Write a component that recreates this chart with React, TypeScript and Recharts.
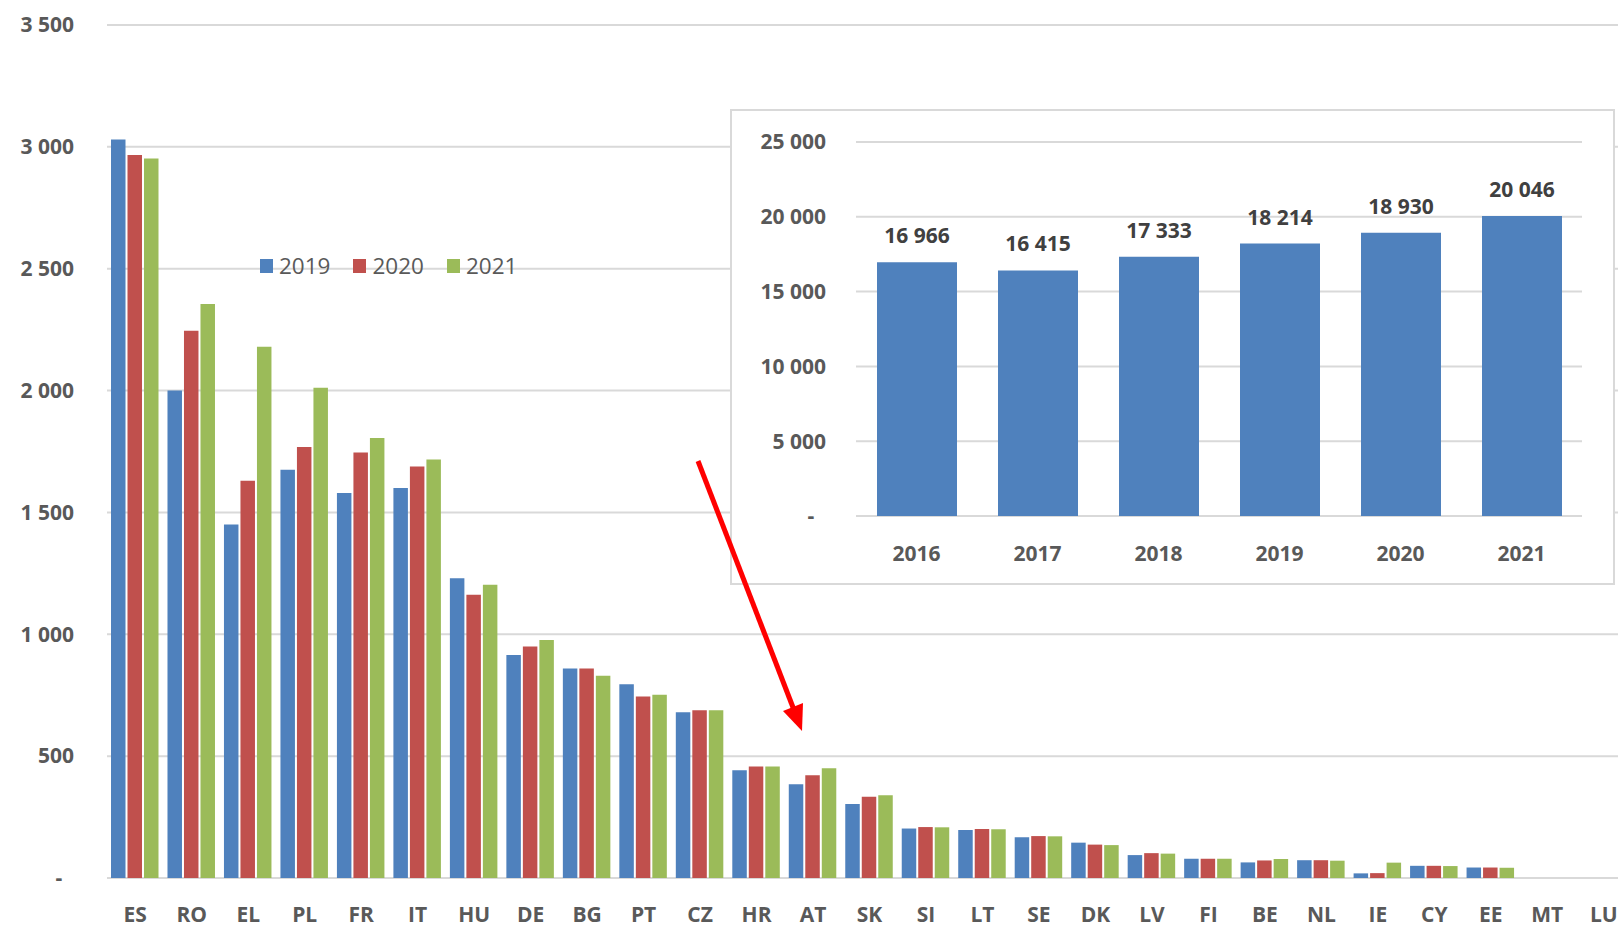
import React from "react"
import { BarChart, Bar, XAxis, YAxis, CartesianGrid, LabelList } from "recharts"

const COUNTRIES = ["ES", "RO", "EL", "PL", "FR", "IT", "HU", "DE", "BG", "PT", "CZ", "HR", "AT", "SK", "SI", "LT", "SE", "DK", "LV", "FI", "BE", "NL", "IE", "CY", "EE", "MT", "LU"]
const V2019 = [3030, 2000, 1450, 1675, 1580, 1600, 1230, 915, 860, 795, 680, 442, 385, 304, 203, 197, 167, 145, 94, 79, 64, 73, 19, 50, 43, 0, 0]
const V2020 = [2967, 2245, 1630, 1768, 1746, 1688, 1162, 950, 860, 745, 688, 458, 422, 333, 209, 201, 172, 137, 102, 79, 72, 73, 20, 50, 43, 0, 0]
const V2021 = [2952, 2355, 2180, 2012, 1805, 1717, 1203, 977, 830, 752, 688, 458, 450, 340, 208, 200, 171, 135, 100, 79, 78, 71, 63, 49, 42, 0, 0]
const MAIN_TICKS = [0, 500, 1000, 1500, 2000, 2500, 3000, 3500]

const YEARS = ["2016", "2017", "2018", "2019", "2020", "2021"]
const TOTALS = [16966, 16415, 17333, 18214, 18930, 20046]
const INSET_TICKS = [0, 5000, 10000, 15000, 20000, 25000]

const SERIES = [
  { key: "y2019", name: "2019", color: "#4f81bd" },
  { key: "y2020", name: "2020", color: "#c0504d" },
  { key: "y2021", name: "2021", color: "#9bbb59" },
]

const FONT = "'Open Sans', 'Liberation Sans', sans-serif"
const GREY = "#595959"
const GRID = "#d9d9d9"

const fmt = (n: number) => String(n).replace(/\B(?=(\d{3})+(?!\d))/g, " ")

const mainData = COUNTRIES.map((c, i) => ({ country: c, y2019: V2019[i], y2020: V2020[i], y2021: V2021[i] }))
const insetData = YEARS.map((y, i) => ({ year: y, total: TOTALS[i] }))

function YTick(props: any) {
  const { x, y, payload } = props
  const zero = payload.value === 0
  return (
    <text
      x={zero ? x - 15 : x}
      y={y}
      dy="0.35em"
      textAnchor={zero ? "middle" : "end"}
      fill={GREY}
      fontFamily={FONT}
      fontWeight={700}
      fontSize={21}
    >
      {zero ? "-" : fmt(payload.value)}
    </text>
  )
}

const xTick = { fill: GREY, fontFamily: FONT, fontWeight: 700, fontSize: 21 }

export default function App() {
  return (
    <div style={{ position: "absolute", left: 0, top: 0, width: 1618, height: 928, overflow: "hidden", background: "#fff", fontFamily: FONT }}>
      <BarChart width={1640} height={928} data={mainData} margin={{ top: 25, right: 8, left: 0, bottom: 0 }} barSize={14.5} barGap={2}>
        <CartesianGrid vertical={false} stroke={GRID} strokeWidth={2} />
        <XAxis dataKey="country" height={50} axisLine={false} tickLine={false} tickSize={0} tickMargin={29} tick={xTick} interval={0} />
        <YAxis width={107} domain={[0, 3500]} ticks={MAIN_TICKS} axisLine={false} tickLine={false} tickSize={0} tickMargin={33} tick={<YTick />} />
        {SERIES.map((s) => (
          <Bar key={s.key} dataKey={s.key} fill={s.color} isAnimationActive={false} />
        ))}
      </BarChart>

      {/* legend sits on the 2 500 gridline */}
      <div style={{ position: "absolute", left: 260, top: 253, display: "flex", alignItems: "center", height: 26 }}>
        {SERIES.map((s) => (
          <div key={s.key} style={{ display: "flex", alignItems: "center", marginRight: 23 }}>
            <div style={{ width: 13, height: 14, background: s.color, marginRight: 6 }} />
            <span style={{ fontSize: 22.5, color: GREY, lineHeight: "26px" }}>{s.name}</span>
          </div>
        ))}
      </div>

      {/* inset: totals by year */}
      <div style={{ position: "absolute", left: 730, top: 109, width: 885, height: 476, border: `2px solid ${GRID}`, boxSizing: "border-box", background: "#fff" }}>
        <BarChart width={881} height={472} data={insetData} margin={{ top: 31, right: 31, left: 0, bottom: 0 }} barSize={80}>
          <CartesianGrid vertical={false} stroke={GRID} strokeWidth={2} />
          <XAxis dataKey="year" height={67} axisLine={false} tickLine={false} tickSize={0} tickMargin={30} tick={xTick} />
          <YAxis width={124} domain={[0, 25000]} ticks={INSET_TICKS} axisLine={false} tickLine={false} tickSize={0} tickMargin={30} tick={<YTick />} />
          <Bar dataKey="total" fill="#4f81bd" isAnimationActive={false}>
            <LabelList dataKey="total" position="top" offset={19} formatter={(v: any) => fmt(Number(v))} fill="#404040" fontFamily={FONT} fontWeight={700} fontSize={21} />
          </Bar>
        </BarChart>
      </div>

      <svg width={1618} height={928} style={{ position: "absolute", left: 0, top: 0, pointerEvents: "none" }}>
        <line x1={698} y1={461} x2={794} y2={710} stroke="#ff0000" strokeWidth={5} />
        <polygon points="802,731 783,711 803,703" fill="#ff0000" />
      </svg>
    </div>
  )
}
